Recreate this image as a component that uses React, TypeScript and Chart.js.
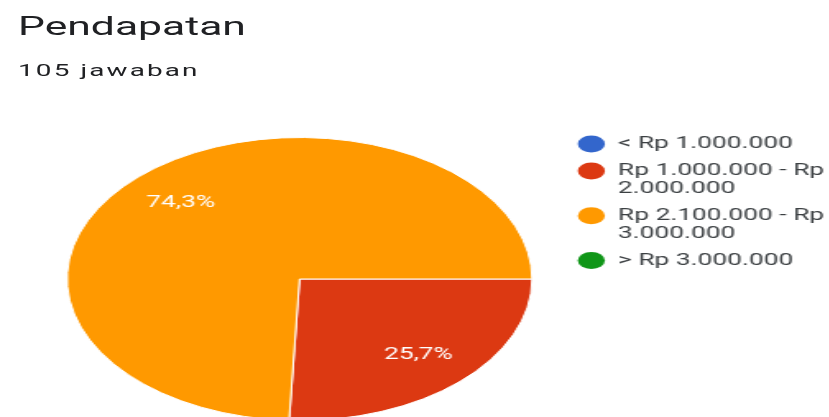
import React, { useEffect, useRef } from 'react';
import { Chart, registerables } from 'chart.js';

Chart.register(...registerables);

const titleText = 'Pendapatan';
const subtitleText = '105 jawaban';
const categories = [
  '< Rp 1.000.000',
  'Rp 1.000.000 - Rp 2.000.000',
  'Rp 2.100.000 - Rp 3.000.000',
  '> Rp 3.000.000',
];
const legendLines = [
  ['< Rp 1.000.000'],
  ['Rp 1.000.000 - Rp', '2.000.000'],
  ['Rp 2.100.000 - Rp', '3.000.000'],
  ['> Rp 3.000.000'],
];
const responses = [0, 27, 78, 0];
const sliceColors = ['#3366CC', '#DC3912', '#FF9900', '#109618'];

const STRETCH = 1.64;
const BASE_W = 829 / STRETCH;

const fmtPct = (v: number, total: number) =>
  ((v / total) * 100).toFixed(1).replace('.', ',') + '%';

const sliceLabels = {
  id: 'sliceLabels',
  afterDatasetsDraw(chart: any) {
    const meta = chart.getDatasetMeta(0);
    const ctx = chart.ctx;
    const total = responses.reduce((a, b) => a + b, 0);
    meta.data.forEach((arc: any, i: number) => {
      const v = responses[i];
      if (!v) return;
      const { x, y, startAngle, endAngle, outerRadius } = arc.getProps(
        ['x', 'y', 'startAngle', 'endAngle', 'outerRadius'],
        true
      );
      const mid = (startAngle + endAngle) / 2;
      const r = outerRadius * 0.74;
      ctx.save();
      ctx.fillStyle = '#ffffff';
      ctx.font = '16px Roboto';
      ctx.textAlign = 'center';
      ctx.textBaseline = 'middle';
      ctx.fillText(fmtPct(v, total), x + Math.cos(mid) * r, y + Math.sin(mid) * r);
      ctx.restore();
    });
  },
};

const legendShift = {
  id: 'legendShift',
  afterLayout(chart: any) {
    const lg = chart.legend;
    if (lg) {
      lg.top -= 10;
      lg.bottom -= 10;
      lg.left += 8;
      lg.right += 8;
    }
  },
};

export default function App() {
  const canvasRef = useRef<HTMLCanvasElement | null>(null);

  useEffect(() => {
    if (!canvasRef.current) return;
    const defaultGen = (Chart as any).overrides.pie.plugins.legend.labels.generateLabels;
    const chart = new Chart(canvasRef.current, {
      type: 'pie',
      data: {
        labels: categories,
        datasets: [
          {
            data: responses,
            backgroundColor: sliceColors,
            borderColor: '#ffffff',
            borderWidth: 1,
          },
        ],
      },
      options: {
        animation: false,
        responsive: true,
        maintainAspectRatio: false,
        rotation: 90,
        layout: { padding: { top: 137, left: 30, right: 2, bottom: 19 } },
        plugins: {
          tooltip: { enabled: false },
          legend: {
            position: 'right',
            align: 'start',
            labels: {
              usePointStyle: true,
              pointStyle: 'circle',
              boxHeight: 12,
              pointStyleWidth: 16.5,
              padding: 9,
              color: '#3c4043',
              font: { family: 'Roboto', size: 16, lineHeight: 1.12 },
              generateLabels: (c: any) =>
                defaultGen(c).map((item: any, i: number) => ({
                  ...item,
                  text: legendLines[i],
                  strokeStyle: sliceColors[i],
                  lineWidth: 0,
                })),
            },
          },
        },
      } as any,
      plugins: [sliceLabels, legendShift],
    });
    return () => chart.destroy();
  }, []);

  return (
    <div
      style={{
        position: 'fixed',
        left: 0,
        top: 0,
        width: 829,
        height: 417,
        overflow: 'hidden',
        background: '#ffffff',
      }}
    >
      <div
        style={{
          position: 'absolute',
          left: 0,
          top: 0,
          width: BASE_W,
          height: 440,
          transform: `scaleX(${STRETCH})`,
          transformOrigin: '0 0',
        }}
      >
        <div
          style={{
            position: 'absolute',
            left: 11,
            top: 13,
            fontFamily: 'Roboto',
            fontSize: 26,
            lineHeight: '26px',
            color: '#202124',
            whiteSpace: 'nowrap',
          }}
        >
          {titleText}
        </div>
        <div
          style={{
            position: 'absolute',
            left: 11,
            top: 62,
            fontFamily: 'Roboto',
            fontSize: 17,
            lineHeight: '17px',
            letterSpacing: '1.3px',
            color: '#202124',
            whiteSpace: 'nowrap',
          }}
        >
          {subtitleText}
        </div>
        <div style={{ position: 'absolute', left: 0, top: 0, width: BASE_W, height: 440 }}>
          <canvas ref={canvasRef} />
        </div>
      </div>
    </div>
  );
}
